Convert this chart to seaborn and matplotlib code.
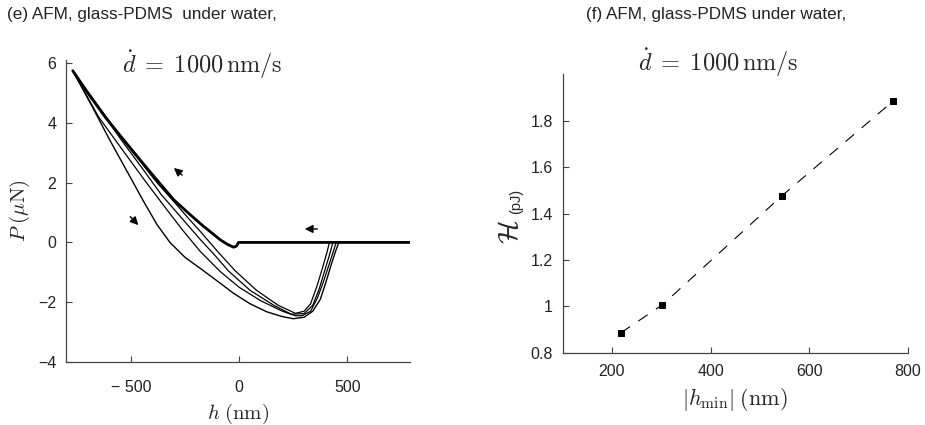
import matplotlib
matplotlib.use('Agg')
import matplotlib.pyplot as plt
import seaborn as sns
import pandas as pd

# (e) approach / retract curves: h (nm), P (uN)
load_h = [-769, -700, -620, -542, -427, -303, -230, -165, -120, -88, -55, -26, -12, -3, 790]
load_P = [5.74, 5.0, 4.2, 3.5, 2.49, 1.43, 0.95, 0.54, 0.28, 0.09, -0.06, -0.16, -0.12, 0.0, 0.0]

r1_h = [-769, -650, -542, -440, -380, -300, -240, -180, -100, -18, 80, 180, 260, 300, 330, 360, 385, 405, 417, 790]
r1_P = [5.74, 4.55, 3.48, 2.55, 2.0, 1.35, 0.85, 0.37, -0.3, -0.95, -1.6, -2.1, -2.37, -2.3, -2.05, -1.45, -0.85, -0.35, 0.0, 0.0]

r2_h = [-769, -650, -542, -440, -360, -270, -180, -110, -50, 50, 160, 240, 300, 340, 370, 395, 418, 433]
r2_P = [5.74, 4.5, 3.4, 2.4, 1.6, 0.85, 0.1, -0.45, -0.95, -1.6, -2.1, -2.4, -2.38, -2.1, -1.55, -0.95, -0.4, 0.0]

r3_h = [-769, -650, -540, -434, -340, -260, -180, -88, 0, 100, 200, 260, 290, 330, 362, 390, 415, 435, 448]
r3_P = [5.74, 4.2, 3.1, 2.05, 1.15, 0.4, -0.3, -0.97, -1.5, -1.95, -2.3, -2.45, -2.45, -2.3, -1.85, -1.3, -0.75, -0.3, 0.0]

r4_h = [-769, -680, -600, -520, -440, -380, -320, -250, -170, -90, -26, 50, 128, 200, 250, 300, 340, 375, 400, 425, 445, 458, 463]
r4_P = [5.74, 4.55, 3.45, 2.4, 1.35, 0.6, 0.0, -0.5, -0.92, -1.35, -1.7, -2.05, -2.32, -2.48, -2.55, -2.5, -2.3, -1.9, -1.35, -0.75, -0.3, -0.05, 0.0]

# (f) hysteresis energy vs |h_min|
hmin_nm = [218, 302, 545, 771]
H_pJ = [0.886, 1.006, 1.477, 1.886]

e_xticks = [-500, 0, 500]
e_xticklabels = ['\u2212 500', '0', '500']
e_yticks = [-4, -2, 0, 2, 4, 6]
e_yticklabels = ['\u22124', '\u22122', '0', '2', '4', '6']
f_xticks = [200, 400, 600, 800]
f_yticks = [0.8, 1.0, 1.2, 1.4, 1.6, 1.8]
f_yticklabels = ['0.8', '1', '1.2', '1.4', '1.6', '1.8']

sns.set_theme(style='ticks')
plt.rcParams['font.family'] = ['Liberation Sans', 'DejaVu Sans']
plt.rcParams['mathtext.fontset'] = 'cm'

fig = plt.figure(figsize=(9.25, 4.25), dpi=100)
ax1 = fig.add_axes([0.0714, 0.148, 0.372, 0.711])
ax2 = fig.add_axes([0.6083, 0.170, 0.373, 0.655])

# left panel
curves = [(r4_h, r4_P, 1.0), (r3_h, r3_P, 0.9), (r2_h, r2_P, 0.9), (r1_h, r1_P, 0.9),
          (load_h, load_P, 2.0)]
for hh, pp, lw in curves:
    df = pd.DataFrame({'h': hh, 'P': pp})
    sns.lineplot(data=df, x='h', y='P', sort=False, estimator=None, color='black',
                 lw=lw, ax=ax1)

arrow = dict(arrowstyle='-|>', color='black', lw=1.0, mutation_scale=12)
ax1.annotate('', xy=(-311, 2.55), xytext=(-254, 2.19), arrowprops=arrow)
ax1.annotate('', xy=(-457, 0.51), xytext=(-512, 0.93), arrowprops=arrow)
ax1.annotate('', xy=(290, 0.45), xytext=(374, 0.45), arrowprops=arrow)

ax1.set_xlim(-800, 790)
ax1.set_ylim(-4, 6.1)
ax1.set_xticks(e_xticks)
ax1.set_xticklabels(e_xticklabels)
ax1.set_yticks(e_yticks)
ax1.set_yticklabels(e_yticklabels)
ax1.set_xlabel(r'$h\;(\mathrm{nm})$', fontsize=15, labelpad=5)
ax1.set_ylabel(r'$P\;(\mu\mathrm{N})$', fontsize=15, labelpad=4)
ax1.text(0.395, 0.985, r'$\dot{d}\;=\;1000\,\mathrm{nm/s}$', transform=ax1.transAxes,
         fontsize=17.5, ha='center', va='center')

# right panel
sns.lineplot(x=hmin_nm, y=H_pJ, color='black', lw=0.8, linestyle=(0, (10, 9)),
             marker='s', markersize=4.2, markeredgecolor='black', ax=ax2)
ax2.set_xlim(100, 800)
ax2.set_ylim(0.8, 2.0)
ax2.set_xticks(f_xticks)
ax2.set_yticks(f_yticks)
ax2.set_yticklabels(f_yticklabels)
ax2.set_xlabel(r'$|h_{\min}|\;(\mathrm{nm})$', fontsize=16, labelpad=5)
ax2.set_ylabel('')
fig.text(0.552, 0.455, r'$\mathcal{H}$', fontsize=20, rotation=90, ha='center', va='center')
fig.text(0.558, 0.525, '(pJ)', fontsize=10.5, rotation=90, ha='center', va='center')
fig.text(0.776, 0.852, r'$\dot{d}\;=\;1000\,\mathrm{nm/s}$', fontsize=17.5, ha='center', va='center')

for ax in (ax1, ax2):
    sns.despine(ax=ax)
    for s in ('left', 'bottom'):
        ax.spines[s].set_color('#444444')
        ax.spines[s].set_linewidth(0.9)
    ax.tick_params(direction='in', length=4, width=0.8, color='#444444',
                   labelsize=11.5, labelcolor='#222222', pad=7)
ax1.tick_params(axis='x', pad=13)
ax2.tick_params(axis='x', pad=8)

fig.text(0.008, 0.965, '(e) AFM, glass-PDMS  under water,', fontsize=12.3,
         ha='left', va='center', color='#222222')
fig.text(0.6335, 0.965, '(f) AFM, glass-PDMS under water,', fontsize=12.3,
         ha='left', va='center', color='#222222')

fig.savefig('out.png', dpi=100)
